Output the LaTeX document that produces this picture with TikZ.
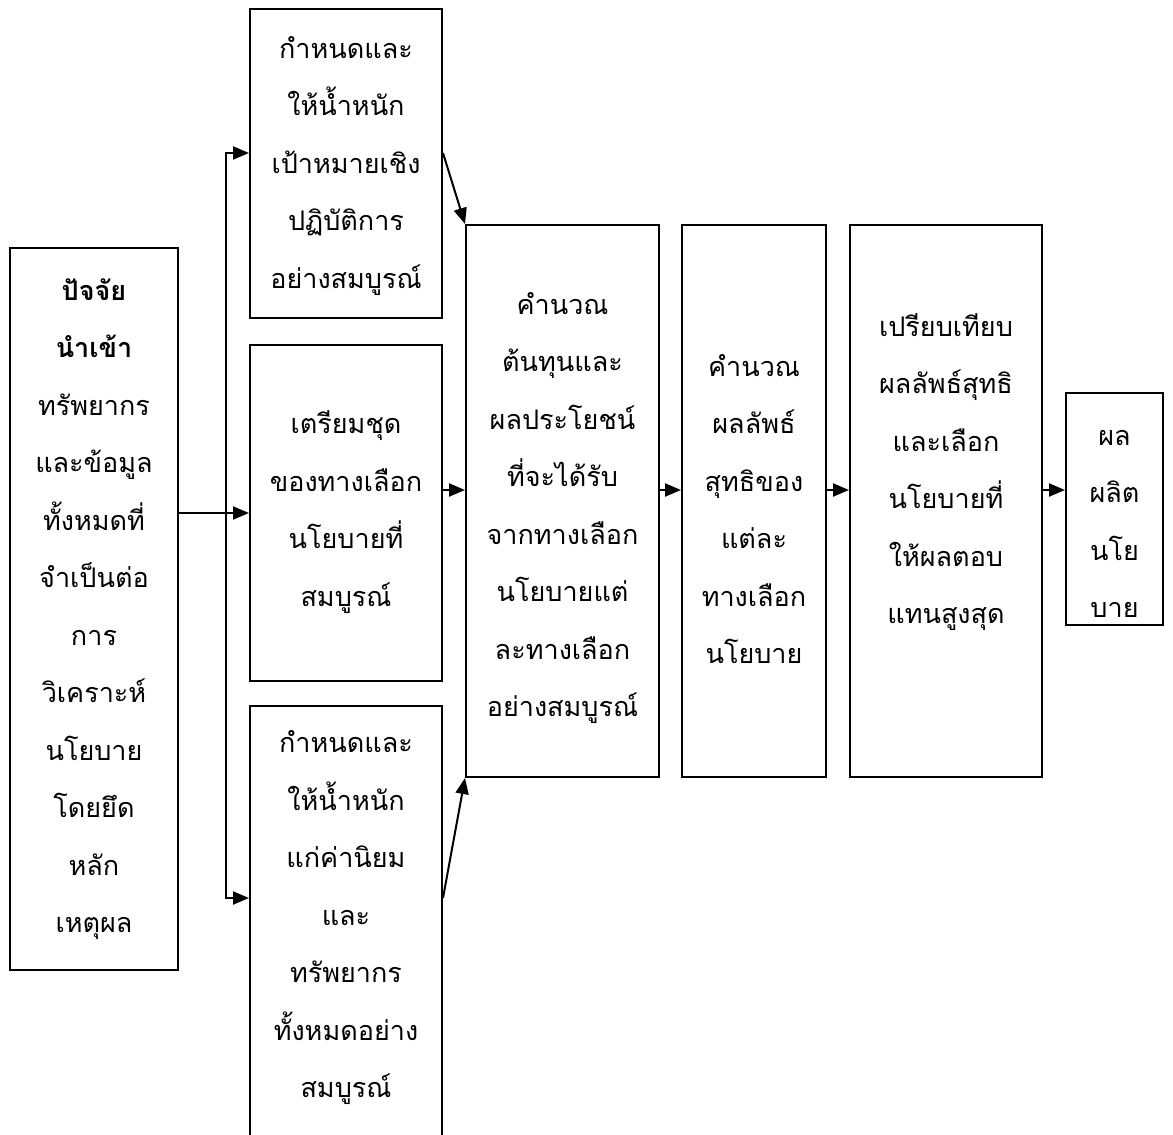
\documentclass[tikz,border=0pt]{standalone}
\usepackage{fontspec}
\newfontfamily\thaifont[Script=Thai]{Loma}
\usetikzlibrary{arrows.meta}

\begin{document}
\begin{tikzpicture}[x=1pt, y=-1pt, line width=2pt, >={Triangle[length=16pt, width=13pt]},
  box/.style={draw, rectangle, inner sep=0pt},
  txt/.style={align=center, font=\thaifont\fontsize{27}{57.5}\selectfont}]
\useasboundingbox (0,0) rectangle (1173,1135);
\clip (0,0) rectangle (1173,1135);
% boxes
\node[box, minimum width=168, minimum height=722] (input) at (94,609) {};
\node[box, minimum width=192, minimum height=309] (goals) at (346,163.5) {};
\node[box, minimum width=192, minimum height=336] (alts) at (346,513) {};
\node[box, minimum width=192, minimum height=474] (values) at (346,943) {};
\node[box, minimum width=193, minimum height=552] (calc) at (562.5,501) {};
\node[box, minimum width=144, minimum height=552] (net) at (754,501) {};
\node[box, minimum width=192, minimum height=552] (cmp) at (946,501) {};
\node[box, minimum width=97, minimum height=232] (out) at (1114.5,509) {};
% texts
\node[txt] (input-t) at (94,609) {\textbf{ปัจจัย}\\\textbf{นำเข้า}\\ทรัพยากร\\และข้อมูล\\ทั้งหมดที่\\จำเป็นต่อ\\การ\\วิเคราะห์\\นโยบาย\\โดยยึด\\หลัก\\เหตุผล};
\node[txt] (goals-t) at (346,166) {กำหนดและ\\ให้น้ำหนัก\\เป้าหมายเชิง\\ปฏิบัติการ\\อย่างสมบูรณ์};
\node[txt] (alts-t) at (346,512) {เตรียมชุด\\ของทางเลือก\\นโยบายที่\\สมบูรณ์};
\node[txt] (values-t) at (346,918) {กำหนดและ\\ให้น้ำหนัก\\แก่ค่านิยม\\และ\\ทรัพยากร\\ทั้งหมดอย่าง\\สมบูรณ์};
\node[txt] (calc-t) at (562.5,508) {คำนวณ\\ต้นทุนและ\\ผลประโยชน์\\ที่จะได้รับ\\จากทางเลือก\\นโยบายแต่\\ละทางเลือก\\อย่างสมบูรณ์};
\node[txt] (net-t) at (754,509) {คำนวณ\\ผลลัพธ์\\สุทธิของ\\แต่ละ\\ทางเลือก\\นโยบาย};
\node[txt] (cmp-t) at (946,472) {เปรียบเทียบ\\ผลลัพธ์สุทธิ\\และเลือก\\นโยบายที่\\ให้ผลตอบ\\แทนสูงสุด};
\node[txt] (out-t) at (1114.5,524) {ผล\\ผลิต\\นโย\\บาย};
% connectors
\coordinate (top) at (226,153);
\coordinate (split) at (226,513);
\coordinate (bot) at (226,898);
\coordinate (row) at (0,490);
\draw (input.east |- split) -- (split);
\draw[<->] (top -| goals.west) -- (top) -- (bot) -- (bot -| values.west);
\draw[->] (split) -- (alts.west);
\draw[->] (top -| goals.east) -- (calc.north west);
\draw[->] (bot -| values.east) -- (calc.south west);
\draw[->] (alts.east |- row) -- (calc.west |- row);
\draw[->] (calc.east |- row) -- (net.west |- row);
\draw[->] (net.east |- row) -- (cmp.west |- row);
\draw[->] (cmp.east |- row) -- (out.west |- row);
\end{tikzpicture}
\end{document}
